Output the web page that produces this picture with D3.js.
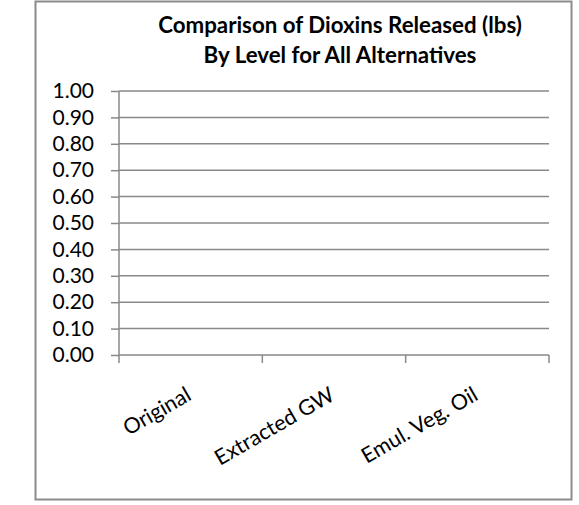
<!DOCTYPE html>
<html>
<head>
<meta charset="utf-8">
<script src="https://cdn.jsdelivr.net/npm/d3@7"></script>
<style>
  body { margin: 0; background: #fff; }
  svg { display: block; font-family: Lato, "Liberation Sans", sans-serif; }
  .grid line { stroke: #898989; stroke-width: 1.5; }
  .axis path, .axis line { stroke: #898989; stroke-width: 1.5; }
</style>
</head>
<body>
<div id="chart"></div>
<script>
// chart data
var titleLines = ['Comparison of Dioxins Released (lbs)', 'By Level for All Alternatives'];
var categories = ['Original', 'Extracted GW', 'Emul. Veg. Oil'];
var dioxinValues = [0, 0, 0];
var yTicks = [0, 0.1, 0.2, 0.3, 0.4, 0.5, 0.6, 0.7, 0.8, 0.9, 1.0];

var width = 579, height = 505;
var plot = { left: 119, right: 549, top: 91, bottom: 355 };

var svg = d3.select('#chart').append('svg')
    .attr('width', width)
    .attr('height', height);

// outer frame
svg.append('rect')
    .attr('x', 35.5).attr('y', 1.5)
    .attr('width', 536).attr('height', 498)
    .attr('fill', '#fff')
    .attr('stroke', '#8c8c8c')
    .attr('stroke-width', 2);

// title
svg.append('g').selectAll('text')
    .data(titleLines)
    .enter().append('text')
    .attr('x', 340)
    .attr('y', function (d, i) { return 33 + i * 30; })
    .attr('text-anchor', 'middle')
    .attr('font-weight', 'bold')
    .attr('font-size', 22.3)
    .text(function (d) { return d; });

var x = d3.scaleBand().domain(categories).range([plot.left, plot.right]).paddingInner(0).paddingOuter(0);
var y = d3.scaleLinear().domain([0, 1]).range([plot.bottom, plot.top]);

// gridlines
svg.append('g')
    .attr('class', 'grid')
    .selectAll('line')
    .data(yTicks.slice(1))
    .enter().append('line')
    .attr('x1', plot.left).attr('x2', plot.right)
    .attr('y1', function (d) { return y(d); })
    .attr('y2', function (d) { return y(d); });

// bars (all zero)
svg.append('g').selectAll('rect')
    .data(dioxinValues)
    .enter().append('rect')
    .attr('x', function (d, i) { return x(categories[i]) + x.bandwidth() * 0.25; })
    .attr('width', x.bandwidth() * 0.5)
    .attr('y', function (d) { return y(d); })
    .attr('height', function (d) { return y(0) - y(d); })
    .attr('fill', '#4f81bd');

// y axis
var yAxis = svg.append('g')
    .attr('class', 'axis')
    .attr('transform', 'translate(' + plot.left + ',0)')
    .call(d3.axisLeft(y).tickValues(yTicks).tickFormat(d3.format('.2f')).tickSizeOuter(0).tickSize(8).tickPadding(17));
yAxis.selectAll('text')
    .attr('font-size', 21)
    .attr('font-family', 'Lato, "Liberation Sans", sans-serif')
    .attr('fill', '#000');
yAxis.select('.domain').attr('d', 'M0,' + plot.top + 'V' + plot.bottom);

// x axis
var xAxis = svg.append('g')
    .attr('class', 'axis')
    .attr('transform', 'translate(0,' + plot.bottom + ')');
xAxis.append('line')
    .attr('x1', plot.left).attr('x2', plot.right)
    .attr('y1', 0).attr('y2', 0);
var boundaries = categories.map(function (c) { return x(c); }).concat([plot.right]);
xAxis.selectAll('.xtick')
    .data(boundaries)
    .enter().append('line')
    .attr('class', 'xtick')
    .attr('x1', function (d) { return d; }).attr('x2', function (d) { return d; })
    .attr('y1', 0).attr('y2', 8);
xAxis.selectAll('.xlabel')
    .data(categories)
    .enter().append('text')
    .attr('class', 'xlabel')
    .attr('text-anchor', 'end')
    .attr('font-size', 21.5)
    .attr('transform', function (d) {
        return 'translate(' + (x(d) + x.bandwidth() / 2 + 2) + ',44) rotate(-30)';
    })
    .text(function (d) { return d; });
</script>
</body>
</html>
